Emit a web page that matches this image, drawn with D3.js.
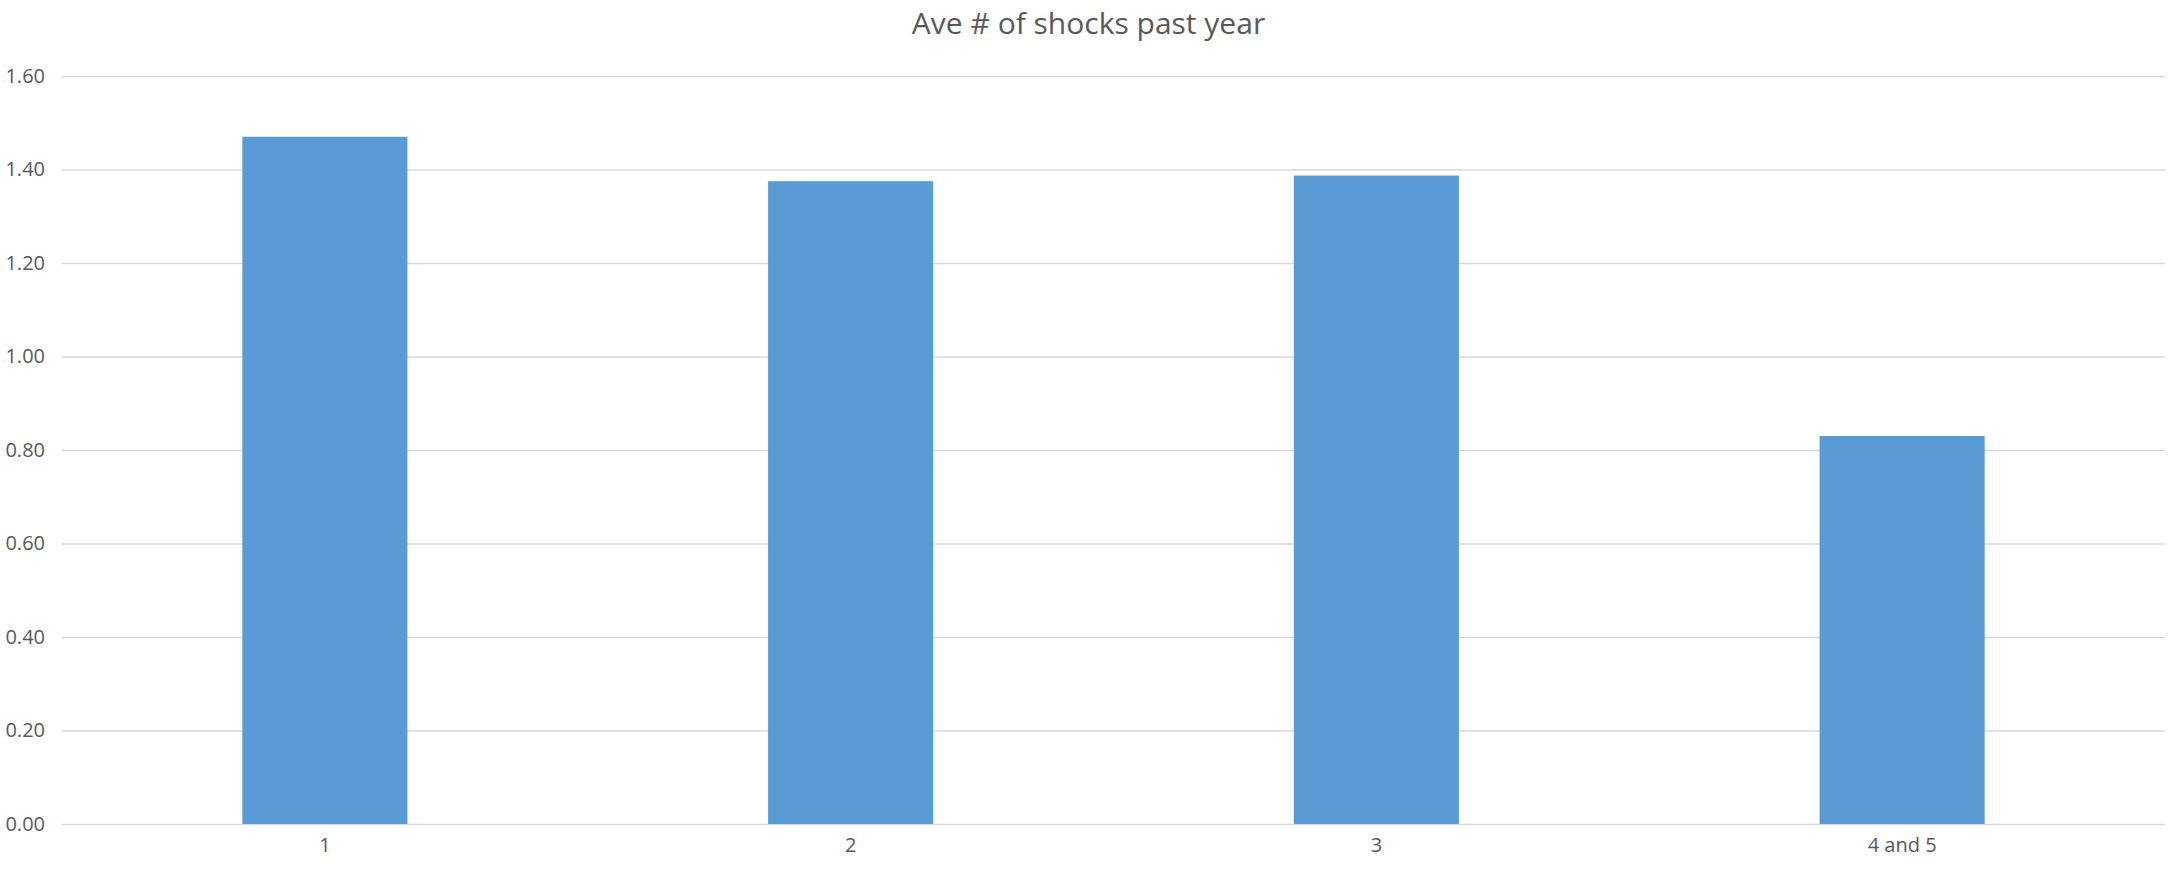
<!DOCTYPE html>
<html>
<head>
<meta charset="utf-8">
<script src="https://cdn.jsdelivr.net/npm/d3@7"></script>
<style>
  html, body { margin: 0; padding: 0; background: #fff; }
  svg { display: block; }
  text { font-family: "Open Sans", "Liberation Sans", sans-serif; fill: #595959; }
</style>
</head>
<body>
<svg id="chart" width="2177" height="872"></svg>
<script>
// Average number of shocks in the past year, by group
const categories = ["1", "2", "3", "4 and 5"];
const values = [1.47, 1.375, 1.387, 0.83];
const yTicks = [0, 0.2, 0.4, 0.6, 0.8, 1.0, 1.2, 1.4, 1.6];
const title = "Ave # of shocks past year";

const W = 2177, H = 872;
const margin = { top: 76, right: 12, bottom: 48, left: 62 };
const svg = d3.select("#chart");

const x = d3.scaleBand()
  .domain(categories)
  .range([margin.left, W - margin.right])
  .paddingInner(0.686)
  .paddingOuter(0.343);

const y = d3.scaleLinear()
  .domain([0, 1.6])
  .range([H - margin.bottom, margin.top]);

// Horizontal gridlines with value labels on the left
const yAxis = d3.axisLeft(y)
  .tickValues(yTicks)
  .tickFormat(d3.format(".2f"))
  .tickSize(-(W - margin.left - margin.right))
  .tickPadding(17);

const gy = svg.append("g")
  .attr("transform", `translate(${margin.left},0)`)
  .call(yAxis);
gy.select(".domain").remove();
gy.selectAll(".tick line").attr("stroke", "#d9d9d9").attr("stroke-width", 1.5);
gy.selectAll(".tick text")
  .attr("font-size", 20)
  .attr("fill", "#595959")
  .style("font-family", "'Open Sans', sans-serif");

// Bars
svg.append("g")
  .selectAll("rect")
  .data(values)
  .join("rect")
  .attr("x", (d, i) => x(categories[i]))
  .attr("width", x.bandwidth())
  .attr("y", d => y(d))
  .attr("height", d => y(0) - y(d))
  .attr("fill", "#5b9bd5");

// Category labels
const xAxis = d3.axisBottom(x).tickSize(0).tickPadding(14);
const gx = svg.append("g")
  .attr("transform", `translate(0,${H - margin.bottom})`)
  .call(xAxis);
gx.select(".domain").remove();
gx.selectAll(".tick text")
  .attr("font-size", 20)
  .attr("fill", "#595959")
  .style("font-family", "'Open Sans', sans-serif");

// Title
svg.append("text")
  .attr("x", W / 2)
  .attr("y", 34)
  .attr("text-anchor", "middle")
  .attr("font-size", 30)
  .text(title);
</script>
</body>
</html>
